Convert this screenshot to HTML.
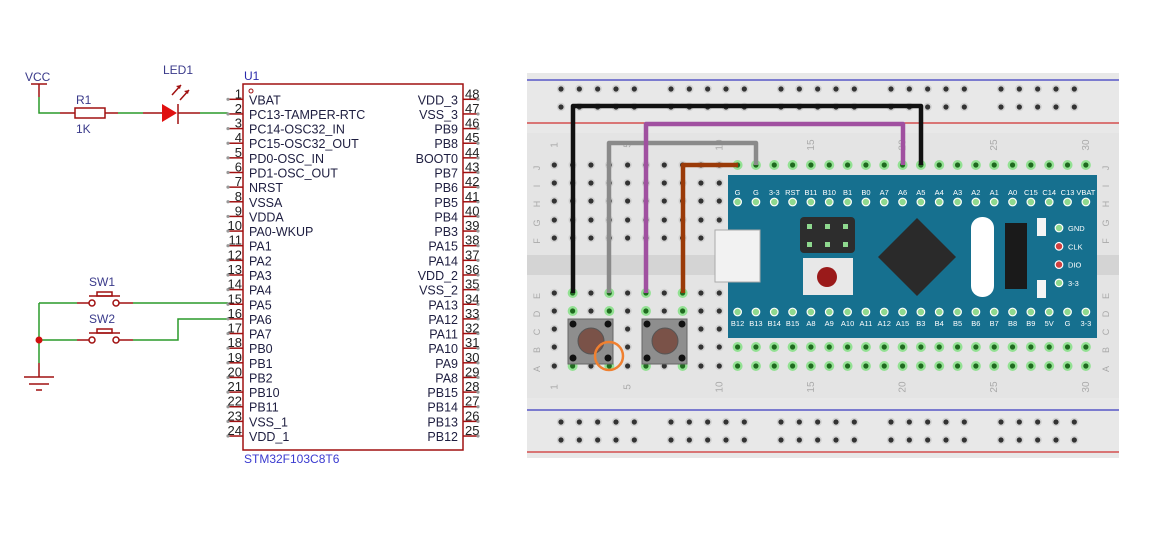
<!DOCTYPE html>
<html><head><meta charset="utf-8"><style>
html,body{margin:0;padding:0;background:#fff;width:1173px;height:539px;overflow:hidden}
svg{display:block;font-family:"Liberation Sans",sans-serif}
</style></head><body>
<svg id="s" width="1173" height="539" viewBox="0 0 1173 539">
<g stroke-width="1.5" fill="none">
<line x1="31" y1="84" x2="47" y2="84" stroke="#a01010"/>
<line x1="39" y1="84" x2="39" y2="97" stroke="#a01010"/>
<polyline points="39,97 39,113 60,113" stroke="#2a9a2a"/>
<line x1="60" y1="113" x2="75" y2="113" stroke="#a01010"/>
<rect x="75" y="108" width="30" height="10" stroke="#a01010"/>
<line x1="105" y1="113" x2="118" y2="113" stroke="#a01010"/>
<line x1="118" y1="113" x2="143" y2="113" stroke="#2a9a2a"/>
<line x1="143" y1="113" x2="162" y2="113" stroke="#a01010"/>
<line x1="178" y1="104" x2="178" y2="124" stroke="#a01010"/>
<line x1="178" y1="113" x2="200" y2="113" stroke="#a01010"/>
<line x1="200" y1="113" x2="228" y2="113" stroke="#2a9a2a"/>
<line x1="172" y1="95" x2="181" y2="85" stroke="#a01010"/>
<line x1="180" y1="100" x2="189" y2="90" stroke="#a01010"/>
<polyline points="39,303 77,303" stroke="#2a9a2a"/>
<line x1="77" y1="303" x2="89" y2="303" stroke="#a01010"/>
<circle cx="92" cy="303" r="3" stroke="#a01010"/>
<circle cx="116" cy="303" r="3" stroke="#a01010"/>
<line x1="119" y1="303" x2="133" y2="303" stroke="#a01010"/>
<line x1="133" y1="303" x2="228" y2="303" stroke="#2a9a2a"/>
<line x1="89" y1="296" x2="120" y2="296" stroke="#a01010"/>
<rect x="97" y="292" width="15" height="4" stroke="#a01010"/>
<line x1="39" y1="303" x2="39" y2="363" stroke="#2a9a2a"/>
<line x1="39" y1="340" x2="77" y2="340" stroke="#2a9a2a"/>
<line x1="77" y1="340" x2="89" y2="340" stroke="#a01010"/>
<circle cx="92" cy="340" r="3" stroke="#a01010"/>
<circle cx="116" cy="340" r="3" stroke="#a01010"/>
<line x1="119" y1="340" x2="133" y2="340" stroke="#a01010"/>
<polyline points="133,340 178,340 178,319 228,319" stroke="#2a9a2a"/>
<line x1="89" y1="333" x2="120" y2="333" stroke="#a01010"/>
<rect x="97" y="329" width="15" height="4" stroke="#a01010"/>
<line x1="39" y1="363" x2="39" y2="377" stroke="#a01010"/>
<line x1="24" y1="377" x2="54" y2="377" stroke="#a01010"/>
<line x1="29" y1="384" x2="49" y2="384" stroke="#a01010"/>
<line x1="36" y1="390" x2="42" y2="390" stroke="#a01010"/>
<rect x="243" y="84" width="220" height="366" stroke="#a01010"/>
<circle cx="251" cy="91" r="2" stroke="#a01010" stroke-width="1"/>
</g>
<polygon points="162,104 162,122 177,113" fill="#e01010"/>
<polygon points="181,85 176,86 180,89" fill="#a01010"/>
<polygon points="189,90 184,91 188,94" fill="#a01010"/>
<circle cx="39" cy="340" r="3.5" fill="#d01010"/>
<g font-size="12" fill="#3a3a8a">
<text x="25" y="81">VCC</text><text x="76" y="104">R1</text><text x="76" y="133">1K</text>
<text x="163" y="74">LED1</text><text x="89" y="286">SW1</text><text x="89" y="323">SW2</text>
</g>
<text x="244" y="80" font-size="12" fill="#2a2aaa">U1</text>
<text x="244" y="463" font-size="12" fill="#3a3ad0">STM32F103C8T6</text>
<g id="pins"></g>
<rect x="527" y="73" width="592" height="385" fill="#e4e4e4"/>
<rect x="527" y="73" width="592" height="60" fill="#e8e8e8"/>
<rect x="527" y="398" width="592" height="60" fill="#e8e8e8"/>
<rect x="527" y="255" width="592" height="20" fill="#d4d4d4"/>
<line x1="527" y1="80" x2="1119" y2="80" stroke="#3a3ac0" stroke-width="1.3"/>
<line x1="527" y1="123" x2="1119" y2="123" stroke="#d03030" stroke-width="1.3"/>
<line x1="527" y1="410" x2="1119" y2="410" stroke="#3a3ac0" stroke-width="1.3"/>
<line x1="527" y1="452" x2="1119" y2="452" stroke="#d03030" stroke-width="1.3"/>
<g id="bb"></g>
<rect x="728" y="175" width="369" height="163" fill="#16708f"/>
<rect x="715" y="230" width="45" height="52" fill="#f2f2f2" stroke="#aaa"/>
<rect x="800" y="217" width="55" height="36" rx="4" fill="#2d2d2d"/>
<rect x="803" y="258" width="50" height="37" fill="#e8e8e8"/>
<circle cx="827" cy="277" r="10" fill="#9a1a1a"/>
<polygon points="917,218 956,257 917,296 878,257" fill="#2a2a2a"/>
<rect x="971" y="217" width="23" height="80" rx="11" fill="#fff"/>
<rect x="1005" y="223" width="22" height="66" fill="#1a1a1a"/>
<rect x="1037" y="218" width="9" height="18" fill="#f4f4f4"/>
<rect x="1037" y="280" width="9" height="18" fill="#f4f4f4"/>
<g id="board"></g>
<rect x="568" y="319" width="45" height="45" fill="#8e8e8e" stroke="#666"/>
<circle cx="591" cy="341" r="13" fill="#7a5248" stroke="#555"/>
<rect x="642" y="319" width="45" height="45" fill="#8e8e8e" stroke="#666"/>
<circle cx="665" cy="341" r="13" fill="#7a5248" stroke="#555"/>
<g fill="#111">
<circle cx="573" cy="324" r="3.5"/><circle cx="608" cy="324" r="3.5"/><circle cx="573" cy="358" r="3.5"/><circle cx="608" cy="358" r="3.5"/>
<circle cx="647" cy="324" r="3.5"/><circle cx="682" cy="324" r="3.5"/><circle cx="647" cy="358" r="3.5"/><circle cx="682" cy="358" r="3.5"/>
</g>
<circle cx="609" cy="356" r="14" fill="none" stroke="#f08030" stroke-width="2.5"/>
<g fill="none" stroke-width="4.5" stroke-linejoin="round">
<polyline points="573,293 573,106 921,106 921,165" stroke="#111"/>
<polyline points="609,293 609,143 756,143 756,165" stroke="#8a8a8a"/>
<polyline points="646,293 646,124 903,124 903,165" stroke="#a050a0"/>
<polyline points="683,293 683,165 738,165" stroke="#9a3a08"/>
</g>
<script>
const NS="http://www.w3.org/2000/svg";
function el(p,t,a,txt){const e=document.createElementNS(NS,t);for(const k in a)e.setAttribute(k,a[k]);if(txt!==undefined)e.textContent=txt;p.appendChild(e);return e;}
const P=document.getElementById('pins');
const L=["VBAT","PC13-TAMPER-RTC","PC14-OSC32_IN","PC15-OSC32_OUT","PD0-OSC_IN","PD1-OSC_OUT","NRST","VSSA","VDDA","PA0-WKUP","PA1","PA2","PA3","PA4","PA5","PA6","PA7","PB0","PB1","PB2","PB10","PB11","VSS_1","VDD_1"];
const R=["VDD_3","VSS_3","PB9","PB8","BOOT0","PB7","PB6","PB5","PB4","PB3","PA15","PA14","VDD_2","VSS_2","PA13","PA12","PA11","PA10","PA9","PA8","PB15","PB14","PB13","PB12"];
for(let i=0;i<24;i++){const y=99.3+i*14.64;
el(P,'line',{x1:228,y1:y,x2:243,y2:y,stroke:'#a01010','stroke-width':1.5});
el(P,'circle',{cx:228,cy:y,r:1.6,fill:'#999'});
el(P,'text',{x:242,y:y-1,'font-size':13,'text-anchor':'end',fill:'#222'},String(i+1));
el(P,'text',{x:249,y:y+5,'font-size':12.5,fill:'#1e1e40'},L[i]);
el(P,'line',{x1:463,y1:y,x2:478,y2:y,stroke:'#a01010','stroke-width':1.5});
el(P,'circle',{cx:478,cy:y,r:1.6,fill:'#999'});
el(P,'text',{x:465,y:y-1,'font-size':13,fill:'#222'},String(48-i));
el(P,'text',{x:458,y:y+5,'font-size':12.5,'text-anchor':'end',fill:'#1e1e40'},R[i]);}
const B=document.getElementById('bb');
const cx=c=>554.3+(c-1)*18.33;
for(const y of [89,107,422,440])for(let g=0;g<5;g++)for(let k=0;k<5;k++){const x=561+g*110+k*18.33;el(B,'circle',{cx:x,cy:y,r:4.2,fill:'#d2d2d2'});el(B,'circle',{cx:x,cy:y,r:2.6,fill:'#333'});}
const rows=[165,183,201,220,238,293,311,329,347,366];
const letters="JIHGFEDCBA";
for(let r=0;r<10;r++){el(B,'text',{x:0,y:0,'font-size':9,fill:'#aaa',transform:`translate(540,${rows[r]+3}) rotate(-90)`,'text-anchor':'middle'},letters[r]);
el(B,'text',{x:0,y:0,'font-size':9,fill:'#aaa',transform:`translate(1109,${rows[r]+3}) rotate(-90)`,'text-anchor':'middle'},letters[r]);
for(let c=1;c<=30;c++){let g=false;
if((r==0||r==8||r==9)&&c>=11)g=true;
if((r==5||r==6||r==9)&&[2,4,6,8].includes(c))g=true;
el(B,'circle',{cx:cx(c),cy:rows[r],r:g?5:4.2,fill:g?'#7ee07e':'#d2d2d2',opacity:g?.8:1});
el(B,'circle',{cx:cx(c),cy:rows[r],r:2.6,fill:g?'#1f6a1f':'#333'});}}
for(const c of [1,5,10,15,20,25,30]){for(const y of [145,387])el(B,'text',{x:0,y:0,'font-size':10,fill:'#aaa',transform:`translate(${cx(c)+3},${y}) rotate(-90)`,'text-anchor':'middle'},String(c));}
const BD=document.getElementById('board');
const T=["G","G","3-3","RST","B11","B10","B1","B0","A7","A6","A5","A4","A3","A2","A1","A0","C15","C14","C13","VBAT"];
const Bo=["B12","B13","B14","B15","A8","A9","A10","A11","A12","A15","B3","B4","B5","B6","B7","B8","B9","5V","G","3-3"];
for(let i=0;i<20;i++){const x=cx(11+i);
el(BD,'text',{x:x,y:195,'font-size':7.5,fill:'#fff','text-anchor':'middle'},T[i]);
el(BD,'circle',{cx:x,cy:202,r:3.8,fill:'#8ed88e',stroke:'#fff','stroke-width':1.2});
el(BD,'text',{x:x,y:326,'font-size':7.5,fill:'#fff','text-anchor':'middle'},Bo[i]);
el(BD,'circle',{cx:x,cy:312,r:3.8,fill:'#8ed88e',stroke:'#fff','stroke-width':1.2});}
for(let i=0;i<3;i++)for(let j=0;j<2;j++)el(BD,'rect',{x:807+i*18,y:224+j*18,width:5,height:5,fill:'#8ed88e'});
[["GND","#8ed88e"],["CLK","#d04040"],["DIO","#d04040"],["3-3","#8ed88e"]].forEach((p,i)=>{const y=228+i*18.3;
el(BD,'circle',{cx:1059,cy:y,r:3.8,fill:p[1],stroke:'#fff','stroke-width':1.2});
el(BD,'text',{x:1068,y:y+3,'font-size':7.5,fill:'#fff'},p[0]);});
</script>
</svg>
</body></html>
